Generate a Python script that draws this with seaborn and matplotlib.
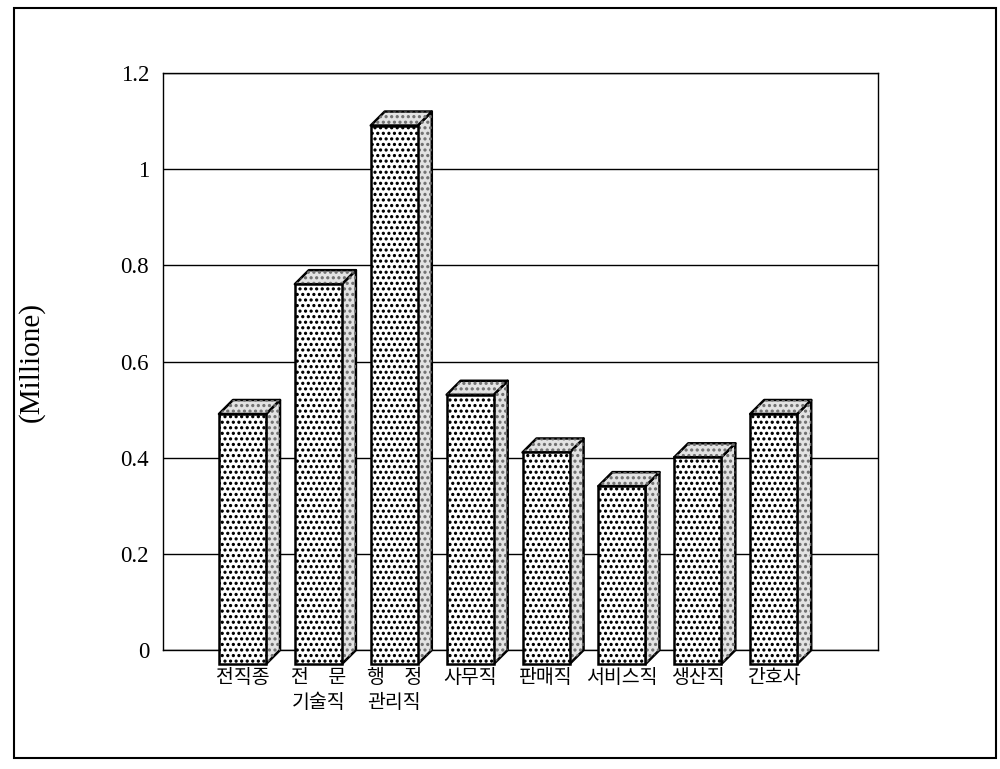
import numpy as np
import pandas as pd
import matplotlib
matplotlib.use("Agg")
import matplotlib.pyplot as plt
import matplotlib.hatch as mhatch
import seaborn as sns
from matplotlib.patches import Polygon, Rectangle
from matplotlib.transforms import Affine2D

# 직종별 값 (단위: 백만)
categories = ["전직종", "전\u3000문\n기술직", "행\u3000정\n관리직", "사무직",
              "판매직", "서비스직", "생산직", "간호사"]
values = [0.52, 0.79, 1.12, 0.56, 0.44, 0.37, 0.43, 0.52]
y_ticks = [0, 0.2, 0.4, 0.6, 0.8, 1.0, 1.2]
y_tick_labels = ["0", "0.2", "0.4", "0.6", "0.8", "1", "1.2"]
y_title = "(Millione)"

sns.set_theme(style="white")
plt.rcParams["font.family"] = ["Liberation Serif", "Noto Sans CJK KR", "DejaVu Sans"]
plt.rcParams["hatch.linewidth"] = 0.8
mhatch.SmallFilledCircles.size = 0.19   # screen-tone dot size

DX, DY = 14, 14          # depth of the pseudo-3D columns, in pixels
KR = ["Noto Sans CJK KR", "DejaVu Sans"]

fig = plt.figure(figsize=(10, 7.69), dpi=100)
ax = fig.add_axes([0.163, 0.1547, 0.715, 0.7503])

df = pd.DataFrame({"job": categories, "value": values})
sns.barplot(data=df, x="job", y="value", order=categories, color="white",
            saturation=1, edgecolor="black", linewidth=1.8, width=0.62,
            hatch="...", ax=ax, zorder=4)

ax.set_xlim(-1.232, 8.19)
ax.set_ylim(0, 1.2)
ax.set_yticks(y_ticks)
ax.set_yticklabels(y_tick_labels, fontsize=16.5)
ax.tick_params(axis="y", length=0, pad=10, colors="black")
ax.tick_params(axis="x", length=0)
ax.set_xticklabels([])
ax.set_xlabel("")
ax.set_ylabel(y_title, fontsize=21, color="black")
ax.yaxis.set_label_coords(-0.165, 0.5)
ax.yaxis.grid(True, color="black", lw=1.0)
ax.set_axisbelow(True)
for sp in ax.spines.values():
    sp.set_color("black")
    sp.set_linewidth(1.0)

# turn each flat bar into a column with a side and a top face
t = ax.transData
inv = t.inverted()
shift = np.array([DX, DY])
for p in list(ax.patches):
    x0, w, h = p.get_x(), p.get_width(), p.get_height()
    br = t.transform((x0 + w, 0.0))
    tr = t.transform((x0 + w, h))
    tl = t.transform((x0, h))
    side = inv.transform(np.array([br - shift, br, tr, tr - shift]))
    top = inv.transform(np.array([tl - shift, tl, tr, tr - shift]))
    for verts in (side, top):
        ax.add_patch(Polygon(verts, closed=True, facecolor="#e3e3e3",
                             edgecolor="black", lw=1.8, zorder=3.5,
                             clip_on=False, joinstyle="round"))
        ax.add_patch(Polygon(verts, closed=True, fill=False,
                             edgecolor="#727272", lw=0, hatch="...",
                             zorder=3.6, clip_on=False))
    p.set_transform(t + Affine2D().translate(-DX, -DY))
    p.set_clip_on(False)

# category labels under the front faces
lab_tf = ax.get_xaxis_transform() + Affine2D().translate(-DX, -17)
for i, name in enumerate(categories):
    ax.text(i, 0, name, transform=lab_tf, ha="center", va="top",
            multialignment="center", fontsize=14, family=KR,
            linespacing=1.25, color="black", zorder=5)

fig.add_artist(Rectangle((0.014, 0.0143), 0.982, 0.975,
                         transform=fig.transFigure, fill=False,
                         edgecolor="black", lw=1.5))

fig.savefig("out.png", dpi=100)
